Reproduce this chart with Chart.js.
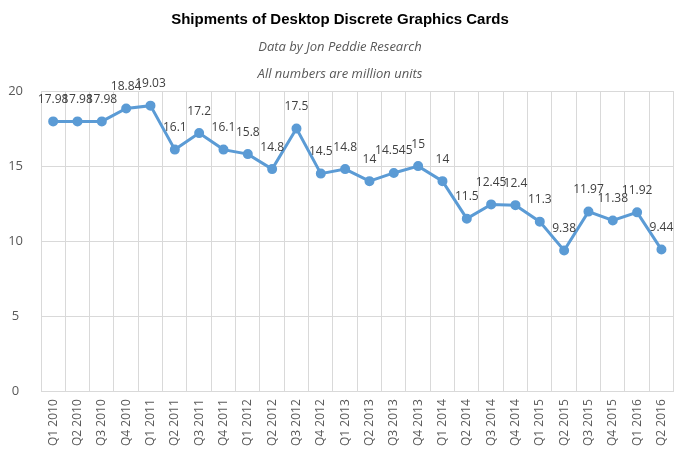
<!DOCTYPE html>
<html>
<head>
<meta charset="utf-8">
<script src="https://cdn.jsdelivr.net/npm/chart.js@4/dist/chart.umd.min.js"></script>
<style>
  html, body { margin: 0; padding: 0; background: #fff; }
  #wrap { width: 684px; height: 458px; }
</style>
</head>
<body>
<div id="wrap"><canvas id="shipments"></canvas></div>
<script>
const quarters = [
    "Q1 2010", "Q2 2010", "Q3 2010", "Q4 2010",
    "Q1 2011", "Q2 2011", "Q3 2011", "Q4 2011",
    "Q1 2012", "Q2 2012", "Q3 2012", "Q4 2012",
    "Q1 2013", "Q2 2013", "Q3 2013", "Q4 2013",
    "Q1 2014", "Q2 2014", "Q3 2014", "Q4 2014",
    "Q1 2015", "Q2 2015", "Q3 2015", "Q4 2015",
    "Q1 2016", "Q2 2016"
]
const units = [
    17.98, 17.98, 17.98, 18.84,
    19.03, 16.1, 17.2, 16.1,
    15.8, 14.8, 17.5, 14.5,
    14.8, 14, 14.545, 15,
    14, 11.5, 12.45, 12.4,
    11.3, 9.38, 11.97, 11.38,
    11.92, 9.44
]
const yTicks = [0, 5, 10, 15, 20]

// values written above each point
const valueLabels = {
    id: "valueLabels",
    afterDatasetsDraw(chart) {
        const ctx = chart.ctx
        const meta = chart.getDatasetMeta(0)
        ctx.save()
        ctx.font = "12px 'Open Sans', sans-serif"
        ctx.fillStyle = "#404040"
        ctx.textAlign = "center"
        ctx.textBaseline = "middle"
        meta.data.forEach((pt, i) => {
            ctx.fillText(String(units[i]), pt.x, pt.y - 22)
        })
        ctx.restore()
    }
}

const shipChart = new Chart("shipments", {
    type: "line",
    data: {
        labels: quarters,
        datasets: [{
            data: units,
            borderColor: "#5B9BD5",
            backgroundColor: "#5B9BD5",
            borderWidth: 3,
            pointRadius: 3.5,
            pointHoverRadius: 3.5,
            tension: 0,
        }]
    },
    options: {
        responsive: true,
        maintainAspectRatio: false,
        animation: false,
        layout: { padding: { left: 4, right: 8, bottom: 4, top: 0 } },
        plugins: {
            legend: { display: false },
            tooltip: { enabled: false },
            title: {
                display: true,
                text: "Shipments of Desktop Discrete Graphics Cards",
                color: "#000",
                font: { family: "'Liberation Sans', Arial, sans-serif", size: 15, weight: "bold" },
                padding: { top: 11, bottom: 3 }
            },
            subtitle: {
                display: true,
                text: ["Data by Jon Peddie Research", "All numbers are million units"],
                color: "#595959",
                font: { family: "'Open Sans', sans-serif", size: 13, style: "italic", lineHeight: 2.08 },
                padding: { top: 2, bottom: 3 }
            }
        },
        scales: {
            x: {
                offset: true,
                grid: { offset: true, color: "#d9d9d9", drawTicks: false },
                border: { color: "#d9d9d9" },
                ticks: {
                    color: "#595959",
                    font: { family: "'Open Sans', sans-serif", size: 12 },
                    minRotation: 90,
                    maxRotation: 90,
                    padding: 8,
                    autoSkip: false
                }
            },
            y: {
                min: 0,
                max: 20,
                afterBuildTicks: axis => { axis.ticks = yTicks.map(v => ({ value: v })) },
                afterFit: axis => { axis.width = 37 },
                grid: { color: "#d9d9d9", drawTicks: false },
                border: { color: "#d9d9d9" },
                ticks: {
                    color: "#595959",
                    font: { family: "'Open Sans', sans-serif", size: 13 },
                    crossAlign: "center",
                    padding: 18
                }
            }
        }
    },
    plugins: [valueLabels]
})
</script>
</body>
</html>
